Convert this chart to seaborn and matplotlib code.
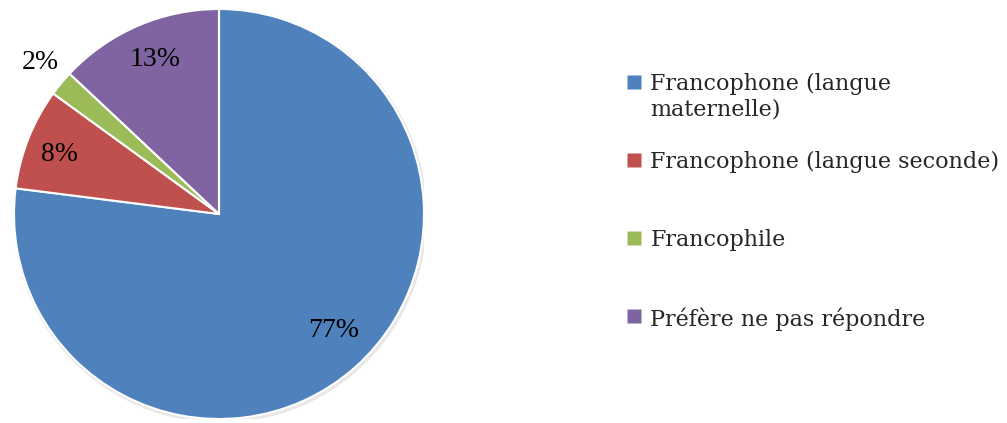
import matplotlib
matplotlib.use("Agg")
import matplotlib.pyplot as plt
import seaborn as sns
import numpy as np
from matplotlib.lines import Line2D
from matplotlib.patches import Circle

categories = ["Francophone (langue\nmaternelle)", "Francophone (langue seconde)",
              "Francophile", "Préfère ne pas répondre"]
shares = [77, 8, 2, 13]
pct_labels = ["77%", "8%", "2%", "13%"]
colors = ["#4F81BD", "#C0504D", "#9BBB59", "#8064A2"]

sns.set_style("white")

W, H = 1007, 423
fig = plt.figure(figsize=(W / 100, H / 100), dpi=100)
cx, cy, r = 219, 209, 205
ax = fig.add_axes([(cx - r) / W, (cy - r) / H, 2 * r / W, 2 * r / H])

# faint shadow under the pie
ax.add_patch(Circle((0.006, -0.009), 1.006, color="#e8e8e8", zorder=0))
wedges, _ = ax.pie(shares, colors=colors, startangle=90, counterclock=False,
                   wedgeprops=dict(edgecolor="white", linewidth=1.5, zorder=1))
ax.set_xlim(-1, 1)
ax.set_ylim(-1, 1)
ax.set_aspect("equal")
ax.axis("off")

# percentage labels (distance, small angle nudge); the tiny slice sits outside
cum = np.cumsum([0] + shares[:-1])
pos = [(0.795, 3.1), (0.83, 1.2), (1.145, -0.7), (0.815, -0.8)]
for s, c, lab, (d, da) in zip(shares, cum, pct_labels, pos):
    ang = np.deg2rad(90 - (c + s / 2) / 100 * 360 + da)
    ax.text(d * np.cos(ang), d * np.sin(ang), lab, ha="center", va="center",
            fontsize=20, family="Liberation Serif", color="black")

# every label gets two lines so that the entries sit in equal slots, like Excel
labels = [lab if "\n" in lab else lab + "\n" for lab in categories]
handles = [Line2D([], [], marker="s", linestyle="none", markersize=9.5,
                  markerfacecolor=c, markeredgecolor="none") for c in colors]
leg = fig.legend(handles, labels, loc="upper left", bbox_to_anchor=(627 / W, 1 - 73 / H),
                 frameon=False, prop={"family": "DejaVu Serif", "size": 16},
                 handlelength=0.6, handleheight=1.0, handletextpad=0.45,
                 labelspacing=1.38, borderpad=0, borderaxespad=0)
for col in leg._legend_handle_box.get_children():
    for item in col.get_children():
        item.align = "top"

fig.savefig("out.png", dpi=100)
